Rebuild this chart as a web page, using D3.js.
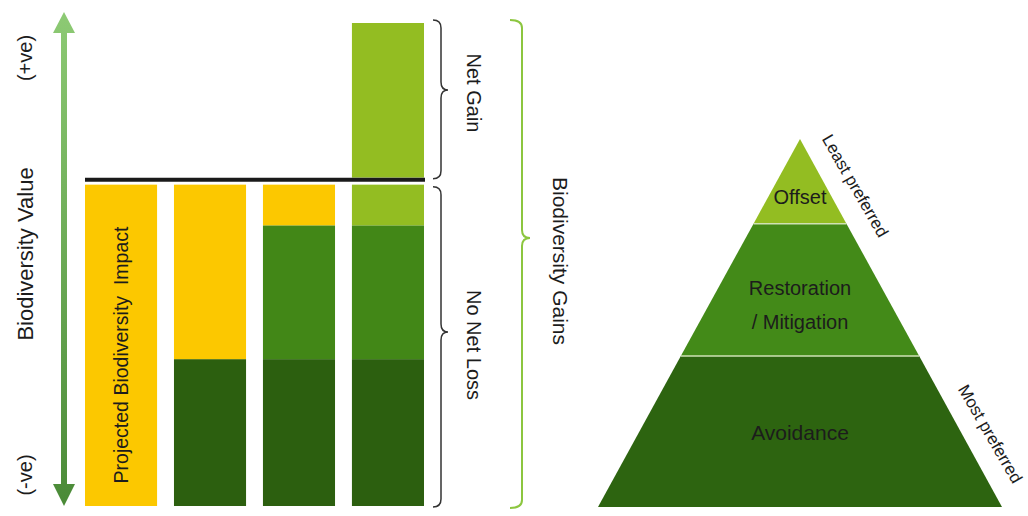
<!DOCTYPE html>
<html>
<head>
<meta charset="utf-8">
<script src="https://cdn.jsdelivr.net/npm/d3@7"></script>
<style>
  body { margin: 0; background: #fff; }
  text { font-family: "Liberation Sans", Arial, sans-serif; fill: #1c1c1c; white-space: pre; }
</style>
</head>
<body>
<script>
// data: four columns of the mitigation hierarchy, values in "biodiversity units"
var columns = ['impact', 'avoid', 'mitigate', 'offset'];
var keys = ['avoidance', 'mitigation', 'offsetting', 'remaining', 'netGain'];
var avoidance  = [0, 45, 45, 45];
var mitigation = [0, 0, 41, 41];
var offsetting = [0, 0, 0, 14];
var remaining  = [100, 55, 14, 0];
var netGain    = [0, 0, 0, 48];
var baselineValue = 100;

var pyramidTiers = ['Avoidance', 'Restoration / Mitigation', 'Offset'];
var pyramidShare = [0.41, 0.36, 0.23];

var colors = {
  avoidance: '#2c5f0f', mitigation: '#428717', offsetting: '#93bd22',
  remaining: '#fcc800', netGain: '#93bd22'
};
var tierColors = ['#2d6410', '#438a18', '#93bd22'];

var rows = columns.map(function (c, i) {
  return { col: c, avoidance: avoidance[i], mitigation: mitigation[i],
           offsetting: offsetting[i], remaining: remaining[i], netGain: netGain[i] };
});

var svg = d3.select('body').append('svg')
    .attr('width', 1028)
    .attr('height', 516);

var x = d3.scaleBand().domain(columns).range([85, 424]).paddingInner(0.19);
var y = d3.scaleLinear().domain([0, 148]).range([506, 23]);
var y0 = y(baselineValue);

// arrow on the left
var grad = svg.append('defs').append('linearGradient')
    .attr('id', 'arrowGrad').attr('x1', 0).attr('y1', 0).attr('x2', 0).attr('y2', 1);
grad.append('stop').attr('offset', '0%').attr('stop-color', '#8dca74');
grad.append('stop').attr('offset', '100%').attr('stop-color', '#4a8a37');

var ax = 64;
svg.append('path')
    .attr('d', 'M' + ax + ',12 L' + (ax + 11) + ',33 L' + (ax + 3) + ',33 L' + (ax + 3) + ',484 L' + (ax + 11) + ',484 L' + ax + ',506 L' + (ax - 11) + ',484 L' + (ax - 3) + ',484 L' + (ax - 3) + ',33 L' + (ax - 11) + ',33 Z')
    .attr('fill', 'url(#arrowGrad)');

function vtext(txt, cx, cy, size, angle) {
  svg.append('text')
      .attr('transform', 'translate(' + cx + ',' + cy + ') rotate(' + angle + ')')
      .attr('text-anchor', 'middle')
      .attr('dominant-baseline', 'central')
      .style('font-size', size + 'px')
      .text(txt);
}
vtext('(+ve)', 25, 58, 20, -90);
vtext('Biodiversity Value', 25, 254, 22, -90);
vtext('(-ve)', 25, 475, 20, -90);

// stacked bars
var stack = d3.stack().keys(keys)(rows);
stack.forEach(function (layer) {
  svg.selectAll(null)
    .data(layer.filter(function (d) { return d[1] > d[0]; }))
    .enter().append('rect')
      .attr('x', function (d) { return x(d.data.col); })
      .attr('width', x.bandwidth())
      .attr('y', function (d) {
        var top = y(d[1]);
        return d[0] < baselineValue && top < y0 + 5 ? y0 + 5 : top;
      })
      .attr('height', function (d) {
        var top = y(d[1]);
        var bot = y(d[0]);
        if (d[0] < baselineValue && top < y0 + 5) top = y0 + 5;
        if (d[0] >= baselineValue) bot = y0 - 2;
        return bot - top;
      })
      .attr('fill', colors[layer.key]);
});

// baseline
svg.append('line')
    .attr('x1', 85).attr('x2', 425)
    .attr('y1', y0).attr('y2', y0)
    .attr('stroke', '#1a1a1a').attr('stroke-width', 4);

vtext('Projected Biodiversity  Impact', x('impact') + x.bandwidth() / 2, 355, 19.5, -90);

// curly braces
function brace(x0, xm, xt, top, tip, bot) {
  var r = 8;
  return 'M' + x0 + ',' + top +
    ' Q' + xm + ',' + top + ' ' + xm + ',' + (top + r) +
    ' L' + xm + ',' + (tip - r) +
    ' Q' + xm + ',' + tip + ' ' + xt + ',' + tip +
    ' Q' + xm + ',' + tip + ' ' + xm + ',' + (tip + r) +
    ' L' + xm + ',' + (bot - r) +
    ' Q' + xm + ',' + bot + ' ' + x0 + ',' + bot;
}
svg.append('path').attr('d', brace(433, 441, 448, y(148) - 3, 90, y0 - 1))
    .attr('fill', 'none').attr('stroke', '#333').attr('stroke-width', 1.5);
svg.append('path').attr('d', brace(433, 441, 448, y0 + 7, 332, y(0) + 1))
    .attr('fill', 'none').attr('stroke', '#333').attr('stroke-width', 1.5);
svg.append('path').attr('d', brace(510, 522, 530, y(148) - 3, 238, y(0) + 2))
    .attr('fill', 'none').attr('stroke', '#8cc63f').attr('stroke-width', 2);

vtext('Net Gain', 474, 93, 20, 90);
vtext('No Net Loss', 474, 345, 20, 90);
vtext('Biodiversity Gains', 560, 261, 21, 90);

// pyramid
var py = d3.scaleLinear().domain([0, 1]).range([507, 139]);
var pCx = 800, pHalf = 202;
var cum = d3.cumsum(pyramidShare);
pyramidTiers.forEach(function (t, i) {
  var f0 = i === 0 ? 0 : cum[i - 1];
  var f1 = cum[i];
  var w0 = pHalf * (1 - f0), w1 = pHalf * (1 - f1);
  svg.append('path')
      .attr('d', 'M' + (pCx - w0) + ',' + py(f0) + ' L' + (pCx + w0) + ',' + py(f0) +
                 ' L' + (pCx + w1) + ',' + py(f1) + ' L' + (pCx - w1) + ',' + py(f1) + ' Z')
      .attr('fill', tierColors[i]);
  if (i > 0) {
    svg.append('line')
        .attr('x1', pCx - w0).attr('x2', pCx + w0)
        .attr('y1', py(f0)).attr('y2', py(f0))
        .attr('stroke', '#cfe2b4').attr('stroke-width', 1.5);
  }
});

svg.append('text').attr('x', pCx).attr('y', 197).attr('text-anchor', 'middle')
    .attr('dominant-baseline', 'central').style('font-size', '20px').text('Offset');
svg.append('text').attr('x', pCx).attr('y', 288).attr('text-anchor', 'middle')
    .attr('dominant-baseline', 'central').style('font-size', '20px').text('Restoration');
svg.append('text').attr('x', pCx).attr('y', 322).attr('text-anchor', 'middle')
    .attr('dominant-baseline', 'central').style('font-size', '20px').text('/ Mitigation');
svg.append('text').attr('x', pCx).attr('y', 432).attr('text-anchor', 'middle')
    .attr('dominant-baseline', 'central').style('font-size', '21px').text('Avoidance');

vtext('Least preferred', 855, 186, 17, 60);
vtext('Most preferred', 990, 434, 17, 60);
</script>
</body>
</html>
